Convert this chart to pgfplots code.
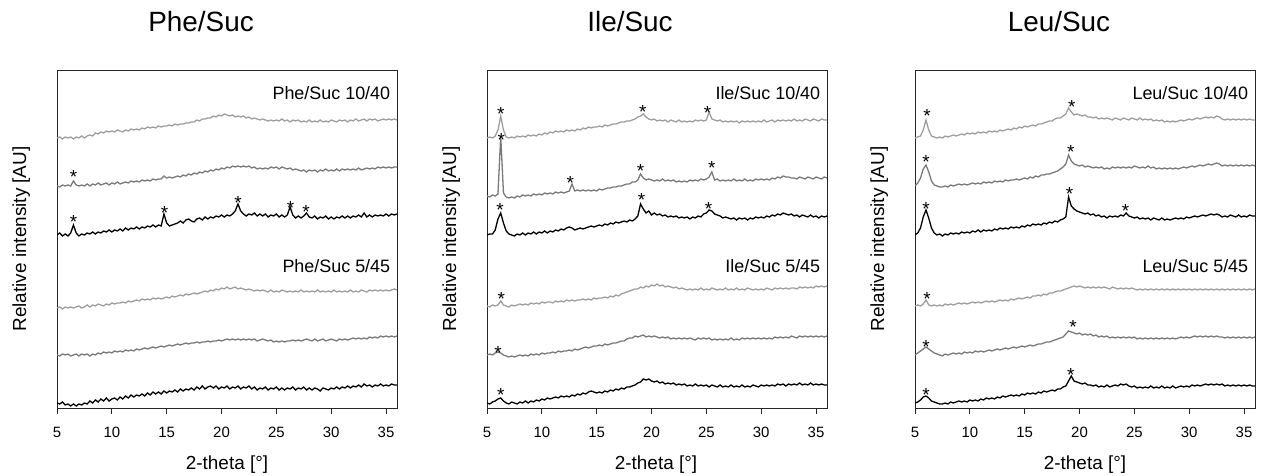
\documentclass[border=0pt]{standalone}
\usepackage{fontspec}
\setmainfont{Liberation Sans}
\usepackage{pgfplots}
\usepackage{pgfplotstable}
\pgfplotsset{compat=1.18}

\definecolor{grA}{gray}{0.62}
\definecolor{grB}{gray}{0.48}

% heights in px above each trace's own baseline; columns a..f = top to bottom
\pgfplotstableread{
x a b c d e f
5.00 0 0 0 0 0 0
5.25 1 -1 2 1 -1 -1
5.5 -1 1 -1 -1 1 1
5.75 1 0 1 1 0 -2
6.0 0 1 -1 0 1 -1
6.25 1 0 2 1 -1 -3
6.5 -1 5 10 0 0 -1
6.75 1 1 2 1 1 -3
7.0 0 0 -1 2 -1 -1
7.25 2 1 1 0 1 -2
7.5 0 0 0 1 0 0
7.75 2 2 2 3 1 -1
8.0 3 0 1 1 -1 2
8.25 2 2 3 3 1 0
8.5 5 1 1 2 0 3
8.75 4 3 3 4 2 1
9.0 6 1 2 3 1 4
9.25 5 2 4 2 3 2
9.5 7 3 3 4 2 5
9.75 6 1 5 3 3 2
10.0 7 3 3 5 2 4
10.25 6 2 5 4 4 5
10.5 8 4 4 5 3 3
10.75 7 2 6 5 4 6
11.0 6 3 4 6 3 4
11.25 8 4 7 5 5 7
11.5 7 3 5 7 4 5
11.75 9 5 7 6 5 8
12.0 8 4 6 7 4 6
12.25 9 5 8 8 6 8
12.5 8 4 6 7 5 7
12.75 10 6 8 9 6 9
13.0 9 5 7 8 7 7
13.25 11 6 9 9 6 10
13.5 10 5 8 8 7 8
13.75 11 7 10 10 8 11
14.0 10 6 8 9 7 9
14.25 12 7 10 10 8 11
14.5 11 7 9 9 9 9
14.75 12 10 21 10 8 12
15.0 12 8 12 11 9 10
15.25 13 9 9 10 10 12
15.5 12 8 10 12 9 11
15.75 14 9 11 11 10 13
16.0 13 10 12 12 11 11
16.25 14 9 14 13 10 14
16.5 14 11 12 12 11 12
16.75 15 10 15 14 12 14
17.0 15 12 16 13 11 13
17.25 16 11 14 14 12 15
17.5 16 13 13 15 12 13
17.75 18 12 16 14 13 16
18.0 17 14 17 15 12 14
18.25 19 13 15 16 13 17
18.5 19 15 18 17 13 14
18.75 20 14 16 16 14 16
19.0 20 16 18 18 13 17
19.25 22 15 17 17 14 15
19.5 21 17 19 19 14 17
19.75 23 16 18 18 15 14
20.0 22 18 20 20 14 16
20.25 24 17 18 19 15 15
20.5 23 19 20 21 16 17
20.75 22 18 19 19 15 14
21.0 23 20 21 20 16 16
21.25 21 19 24 21 15 15
21.5 22 20 31 19 16 17
21.75 21 19 24 20 15 14
22.0 22 20 21 19 16 16
22.25 20 19 19 18 15 15
22.5 21 20 21 19 16 17
22.75 19 18 20 18 15 14
23.0 20 19 22 17 16 16
23.25 19 17 19 18 14 13
23.5 18 18 21 17 15 15
23.75 19 17 19 18 16 14
24.0 18 18 21 17 15 16
24.25 17 17 18 16 14 13
24.5 18 19 20 18 15 15
24.75 17 18 19 16 13 14
25.0 18 19 21 17 14 16
25.25 17 17 18 16 13 13
25.5 19 19 20 18 14 15
25.75 17 18 18 17 13 13
26.0 18 17 20 16 14 15
26.25 16 18 28 17 14 14
26.5 18 16 20 16 15 16
26.75 17 17 17 17 14 13
27.0 18 16 19 16 15 15
27.25 16 15 17 18 14 14
27.5 17 16 19 16 15 16
27.75 16 14 22 17 16 13
28.0 18 16 18 16 15 15
28.25 16 15 17 17 14 13
28.5 17 16 19 16 16 15
28.75 16 14 16 18 14 14
29.0 18 16 18 16 15 12
29.25 16 15 17 17 16 15
29.5 17 17 19 16 14 14
29.75 16 15 16 17 15 13
30.0 18 16 18 16 16 15
30.25 17 15 16 18 15 14
30.5 16 17 18 16 14 16
30.75 18 15 17 17 16 14
31.0 17 17 19 16 15 16
31.25 18 16 17 17 16 15
31.5 16 17 19 16 15 17
31.75 18 16 17 18 16 15
32.0 17 17 19 16 17 17
32.25 19 16 18 17 16 16
32.5 17 18 20 16 17 18
32.75 18 16 18 18 16 16
33.0 19 17 22 17 17 19
33.25 17 18 18 16 16 17
33.5 19 17 20 18 18 18
33.75 18 18 18 17 17 16
34.0 19 17 20 18 18 18
34.25 17 19 19 17 17 17
34.5 18 18 20 18 19 19
34.75 19 19 19 17 18 17
35.0 18 18 21 18 19 18
35.25 19 19 19 17 18 17
35.5 18 18 21 18 19 19
35.75 19 19 20 19 18 18
36.0 18 19 21 18 19 18
}\phe

\pgfplotstableread{
x a b c d e f
5.00 0 0 0 0 0 0
5.25 1 -1 1 -1 1 -1
5.5 0 1 1 1 0 1
5.75 2 0 5 0 2 2
6.0 8 2 16 1 3 4
6.25 22 60 22 5 2 5
6.5 8 3 12 1 0 2
6.75 1 -1 4 0 -1 0
7.0 0 -2 1 -1 -2 -1
7.25 1 -1 0 1 -1 1
7.5 0 -2 -1 0 -2 0
7.75 2 0 1 1 -1 -1
8.0 1 -1 0 2 0 1
8.25 2 1 2 1 -1 0
8.5 1 0 0 2 0 2
8.75 3 1 2 1 -1 0
9.0 2 0 1 3 1 2
9.25 3 2 3 2 0 1
9.5 2 1 1 3 1 3
9.75 4 2 3 2 0 2
10.0 3 1 2 4 2 4
10.25 5 3 4 3 1 3
10.5 4 2 2 4 2 5
10.75 6 3 4 4 2 4
11.0 5 2 3 3 3 5
11.25 7 4 5 5 2 6
11.5 6 3 4 4 4 5
11.75 7 4 6 5 3 7
12.0 6 3 5 4 4 6
12.25 8 4 7 6 4 7
12.5 7 5 8 5 5 6
12.75 8 12 7 6 4 8
13.0 7 5 5 5 6 7
13.25 9 6 6 6 5 9
13.5 8 5 7 6 6 8
13.75 10 6 6 7 7 10
14.0 9 5 7 6 8 9
14.25 11 6 8 7 7 11
14.5 10 5 9 6 8 12
14.75 11 6 8 8 9 11
15.0 11 5 9 7 9 10
15.25 12 7 10 8 10 11
15.5 11 6 9 8 9 10
15.75 13 7 11 9 11 12
16.0 12 8 10 8 10 11
16.25 13 8 12 10 11 13
16.5 14 9 11 9 12 12
16.75 14 9 13 11 12 14
17.0 15 10 12 10 13 13
17.25 16 10 13 12 14 15
17.5 16 11 14 13 14 14
17.75 17 12 13 14 16 16
18.0 17 12 15 15 17 16
18.25 18 14 14 16 17 17
18.5 19 14 16 17 19 18
18.75 21 16 19 17 18 20
19.0 22 22 31 19 19 21
19.25 24 18 26 18 20 24
19.5 21 16 22 20 18 23
19.75 19 17 24 19 19 24
20.0 18 16 20 21 18 22
20.25 19 15 22 20 19 21
20.5 17 16 20 22 18 22
20.75 18 15 21 20 17 20
21.0 17 17 19 21 18 21
21.25 18 15 20 19 17 19
21.5 16 16 18 20 18 20
21.75 18 15 19 19 16 19
22.0 17 16 18 18 17 20
22.25 16 14 19 19 16 18
22.5 18 15 17 17 17 19
22.75 16 14 18 18 16 18
23.0 17 15 17 17 17 19
23.25 16 14 18 16 16 17
23.5 17 16 16 17 17 18
23.75 16 15 18 16 16 17
24.0 18 16 17 17 15 19
24.25 17 15 19 16 17 17
24.5 18 17 18 18 16 18
24.75 17 16 21 16 17 17
25.0 18 17 22 17 16 18
25.25 26 19 25 16 17 16
25.5 19 24 24 18 15 18
25.75 18 16 21 17 16 17
26.0 17 17 20 16 15 16
26.25 18 15 19 17 16 18
26.5 16 16 17 16 15 16
26.75 17 15 18 18 16 17
27.0 16 16 17 16 15 16
27.25 17 15 16 17 17 18
27.5 16 17 17 16 15 16
27.75 17 15 15 18 16 17
28.0 15 16 17 16 15 16
28.25 17 15 16 17 17 18
28.5 16 17 17 16 16 16
28.75 17 15 15 18 17 17
29.0 16 16 17 17 16 16
29.25 17 15 16 16 17 18
29.5 16 17 18 17 16 17
29.75 17 16 17 16 17 16
30.0 16 17 18 17 16 18
30.25 18 16 17 16 17 17
30.5 16 17 19 18 16 18
30.75 17 16 18 17 17 17
31.0 18 18 20 16 16 18
31.25 16 17 19 18 18 17
31.5 18 19 21 17 17 19
31.75 17 18 20 18 18 18
32.0 18 20 22 17 17 19
32.25 17 19 21 18 18 17
32.5 18 19 20 17 17 19
32.75 17 18 21 18 19 18
33.0 19 18 19 18 18 19
33.25 17 17 20 17 17 18
33.5 18 19 18 19 19 20
33.75 17 18 20 18 18 18
34.0 19 17 19 19 19 19
34.25 18 19 18 18 18 18
34.5 17 18 20 19 19 20
34.75 19 17 18 18 18 18
35.0 18 19 19 20 19 19
35.25 17 18 17 19 18 18
35.5 19 17 19 20 19 19
35.75 18 19 18 19 18 18
36.0 18 18 19 20 19 18
}\ile

\pgfplotstableread{
x a b c d e f
5.00 0 0 0 0 0 0
5.25 1 3 2 1 2 1
5.5 2 8 7 0 4 3
5.75 8 17 18 2 6 6
6.0 18 21 25 6 8 7
6.25 8 14 17 1 6 5
6.5 2 5 7 0 4 2
6.75 1 1 2 1 2 1
7.0 0 0 0 0 1 0
7.25 1 -1 1 1 0 -1
7.5 0 -1 -1 0 -1 -1
7.75 2 0 1 2 1 0
8.0 1 -1 0 1 0 -1
8.25 2 1 2 2 1 1
8.5 3 0 1 1 2 0
8.75 2 1 2 2 1 1
9.0 3 2 1 3 2 2
9.25 4 1 3 2 1 1
9.5 3 2 2 3 3 2
9.75 5 1 3 2 2 1
10.0 4 2 2 3 3 3
10.25 5 3 4 4 2 2
10.5 4 2 3 3 4 3
10.75 6 3 5 4 3 2
11.0 5 2 3 3 4 4
11.25 6 4 5 4 3 3
11.5 5 3 4 5 4 5
11.75 7 4 5 4 5 4
12.0 6 3 4 5 4 5
12.25 7 5 6 4 5 4
12.5 6 4 5 5 6 6
12.75 8 5 7 6 5 5
13.0 7 4 6 5 6 7
13.25 8 6 7 6 7 6
13.5 9 5 6 5 6 7
13.75 8 6 8 7 7 8
14.0 10 6 7 6 8 7
14.25 9 7 8 7 7 8
14.5 11 6 7 8 8 7
14.75 10 7 9 7 9 9
15.0 12 8 8 8 8 8
15.25 11 7 10 9 9 10
15.5 12 9 9 8 10 9
15.75 13 8 11 10 9 10
16.0 12 10 10 10 10 9
16.25 14 9 11 11 11 11
16.5 14 11 10 10 11 10
16.75 15 11 12 12 12 12
17.0 16 12 11 11 13 11
17.25 17 12 13 13 13 12
17.5 17 13 12 13 14 13
17.75 19 14 14 14 15 12
18.0 20 15 13 15 16 14
18.25 20 17 15 15 17 14
18.5 22 19 16 16 18 16
18.75 24 22 18 17 21 17
19.0 30 31 38 18 24 22
19.25 26 25 29 19 23 27
19.5 23 22 26 20 22 22
19.75 24 21 24 19 21 21
20.0 23 20 23 20 22 20
20.25 22 21 22 19 20 19
20.5 23 19 21 18 21 20
20.75 21 20 22 19 20 18
21.0 21 19 20 18 21 18
21.25 20 18 21 19 19 17
21.5 21 19 19 18 20 18
21.75 19 18 20 19 18 16
22.0 20 19 18 18 19 17
22.25 19 17 19 19 18 16
22.5 20 18 17 18 19 18
22.75 19 17 19 17 17 16
23.0 18 19 18 19 18 17
23.25 20 18 19 18 17 18
23.5 19 19 18 17 18 17
23.75 18 18 20 18 17 19
24.0 20 19 19 17 18 18
24.25 19 18 22 18 17 19
24.5 18 19 19 17 18 17
24.75 20 18 18 18 17 16
25.0 19 20 17 17 18 17
25.25 18 19 18 16 16 15
25.5 20 18 16 17 17 16
25.75 18 19 17 16 16 15
26.0 19 18 16 17 17 16
26.25 18 20 17 16 16 15
26.5 19 18 15 17 17 17
26.75 17 19 17 16 16 15
27.0 18 17 16 17 17 16
27.25 17 18 15 16 16 15
27.5 18 17 17 17 17 17
27.75 16 18 15 16 16 15
28.0 17 17 16 17 17 16
28.25 16 18 15 16 16 15
28.5 17 17 16 17 17 17
28.75 16 18 17 16 16 15
29.0 17 17 16 17 17 16
29.25 18 18 17 16 18 17
29.5 17 19 16 17 17 16
29.75 18 18 18 16 18 17
30.0 19 19 17 17 17 16
30.25 18 20 18 16 18 18
30.5 19 19 19 17 19 17
30.75 20 20 18 16 18 18
31.0 19 21 19 17 19 17
31.25 20 20 20 16 18 18
31.5 21 21 19 17 19 19
31.75 20 22 20 16 18 18
32.0 21 21 21 17 19 19
32.25 20 22 20 16 18 18
32.5 22 23 21 17 19 19
32.75 21 22 20 16 18 18
33.0 19 20 18 17 18 19
33.25 18 21 19 16 17 17
33.5 19 20 18 17 18 18
33.75 18 21 20 16 17 17
34.0 19 20 19 17 18 18
34.25 18 21 18 16 17 17
34.5 19 20 20 17 18 18
34.75 18 21 18 16 17 17
35.0 19 20 19 17 18 18
35.25 18 21 18 16 17 17
35.5 19 20 20 17 18 18
35.75 18 21 19 16 17 17
36.0 18 20 19 17 18 17
}\leu

\pgfplotsset{
  xrdpanel/.style={
    anchor=south west, scale only axis,
    width=340bp, height=338bp,
    xmin=5, xmax=36, ymin=0, ymax=338,
    xtick={5,10,...,35}, ytick=\empty,
    xtick pos=bottom, tick align=outside,
    major tick length=6bp,
    axis line style={line width=0.9bp, black!85},
    tick style={line width=0.9bp, black!85},
    xticklabel style={font=\fontsize{15}{17}\selectfont, yshift=-10bp},
    /pgf/number format/assume math mode=true,
  },
  trace/.style={no marks, line width=1.3bp},
  astmark/.style={only marks, mark=text, text mark={*}, text mark as node=true,
    text mark style={font=\fontsize{19}{19}\selectfont, anchor=base,
      yshift=-11bp, inner sep=0pt, text=black}},
}

\begin{document}
\begin{tikzpicture}[x=1bp, y=1bp]
\useasboundingbox (0,0) rectangle (1263,476);

% ---- Phe/Suc
\begin{axis}[xrdpanel, at={(57bp,68bp)}]
  \addplot[trace, grA] table[x=x, y expr=\thisrow{a}+270] {\phe};
  \addplot[trace, grB] table[x=x, y expr=\thisrow{b}+222] {\phe};
  \addplot[trace, black] table[x=x, y expr=\thisrow{c}+173] {\phe};
  \addplot[trace, grA] table[x=x, y expr=\thisrow{d}+100] {\phe};
  \addplot[trace, grB] table[x=x, y expr=\thisrow{e}+53] {\phe};
  \addplot[trace, black] table[x=x, y expr=\thisrow{f}+5] {\phe};
  \addplot[astmark] coordinates {(6.5,235) (6.5,190) (14.8,199) (21.5,209) (26.3,204) (27.7,200.5)};
  \node[anchor=base east, font=\fontsize{18}{20}\selectfont] at (axis cs:35.7,308) {Phe/Suc 10/40};
  \node[anchor=base east, font=\fontsize{18}{20}\selectfont] at (axis cs:35.7,135) {Phe/Suc 5/45};
\end{axis}

% ---- Ile/Suc
\begin{axis}[xrdpanel, at={(487bp,68bp)}]
  \addplot[trace, grA] table[x=x, y expr=\thisrow{a}+270] {\ile};
  \addplot[trace, grB] table[x=x, y expr=\thisrow{b}+212] {\ile};
  \addplot[trace, black] table[x=x, y expr=\thisrow{c}+173] {\ile};
  \addplot[trace, grA] table[x=x, y expr=\thisrow{d}+102] {\ile};
  \addplot[trace, grB] table[x=x, y expr=\thisrow{e}+53] {\ile};
  \addplot[trace, black] table[x=x, y expr=\thisrow{f}+5] {\ile};
  \addplot[astmark] coordinates {(6.25,298) (19.2,300) (25.1,299) (6.3,272) (12.6,229.5)
    (19.0,241.5) (25.5,244.5) (6.2,202) (19.1,212) (25.2,203.5) (6.3,113.5) (6.0,59.5) (6.25,17.5)};
  \node[anchor=base east, font=\fontsize{18}{20}\selectfont] at (axis cs:35.7,308) {Ile/Suc 10/40};
  \node[anchor=base east, font=\fontsize{18}{20}\selectfont] at (axis cs:35.7,135) {Ile/Suc 5/45};
\end{axis}

% ---- Leu/Suc
\begin{axis}[xrdpanel, at={(915bp,68bp)}]
  \addplot[trace, grA] table[x=x, y expr=\thisrow{a}+270] {\leu};
  \addplot[trace, grB] table[x=x, y expr=\thisrow{b}+222] {\leu};
  \addplot[trace, black] table[x=x, y expr=\thisrow{c}+173] {\leu};
  \addplot[trace, grA] table[x=x, y expr=\thisrow{d}+102] {\leu};
  \addplot[trace, grB] table[x=x, y expr=\thisrow{e}+53] {\leu};
  \addplot[trace, black] table[x=x, y expr=\thisrow{f}+5] {\leu};
  \addplot[astmark] coordinates {(6.1,296.5) (19.3,305.5) (6.0,250.5) (19.2,260) (6.0,203.5)
    (19.1,218) (24.2,201.5) (6.1,113.5) (6.0,65) (19.4,85) (6.0,17.5) (19.2,37.5)};
  \node[anchor=base east, font=\fontsize{18}{20}\selectfont] at (axis cs:35.7,308) {Leu/Suc 10/40};
  \node[anchor=base east, font=\fontsize{18}{20}\selectfont] at (axis cs:35.7,135) {Leu/Suc 5/45};
\end{axis}

% titles and axis labels
\node[anchor=base, font=\fontsize{28}{30}\selectfont] at (201,444) {Phe/Suc};
\node[anchor=base, font=\fontsize{28}{30}\selectfont] at (630,444) {Ile/Suc};
\node[anchor=base, font=\fontsize{28}{30}\selectfont] at (1059,444) {Leu/Suc};
\foreach \lx in {26,456,884}
  \node[rotate=90, anchor=base, font=\fontsize{19}{21}\selectfont] at (\lx,237) {Relative intensity [AU]};
\foreach \cx in {227,656,1085}
  \node[anchor=base, font=\fontsize{19}{21}\selectfont] at (\cx,6) {2-theta [°]};
\end{tikzpicture}
\end{document}
